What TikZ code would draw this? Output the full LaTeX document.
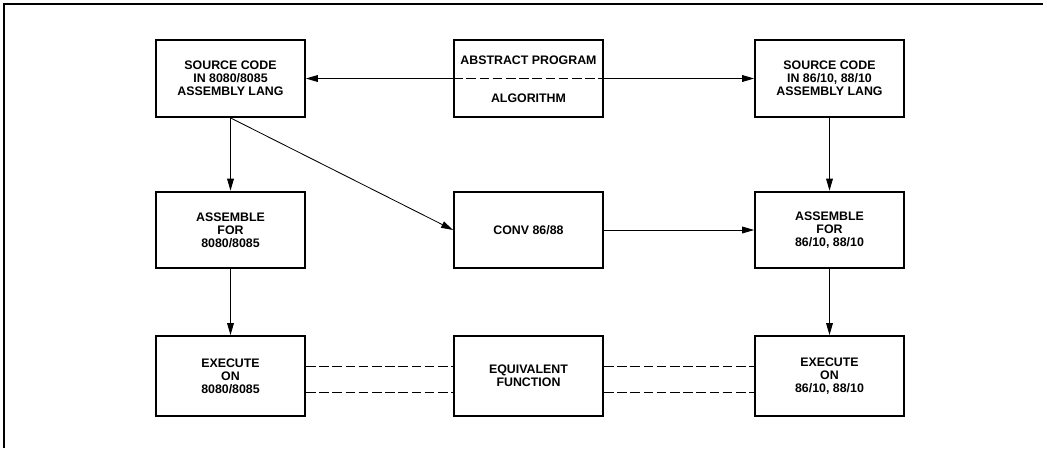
\documentclass[tikz,border=0pt]{standalone}
\usepackage{fontspec}
\setsansfont{Liberation Sans}
\usetikzlibrary{arrows.meta,positioning,calc}
\newcommand{\boxfont}{\sffamily\bfseries\fontsize{8.8}{9.2}\selectfont}
\tikzset{
  blk/.style={draw, line width=1.4pt, minimum width=3.72cm, minimum height=1.92cm,
              align=center, font=\boxfont},
  txt/.style={align=center, font=\boxfont, inner sep=1pt},
  flowarr/.style={-{Triangle[length=3mm, width=1.7mm]}, line width=0.6pt},
  eqline/.style={line width=0.6pt, dash pattern=on 2.4mm off 0.9mm},
}
\begin{document}
\begin{tikzpicture}[x=0.025cm, y=-0.025cm]
    \useasboundingbox (0,0) rectangle (1047,448);
    % page frame
    \draw[line width=1.2pt] (1043,4) -- (4,4) -- (4,448);
    % top row
    \node[blk] (srcA) at (230.5,78.5) {SOURCE CODE\\IN 8080/8085\\ASSEMBLY LANG};
    \node[blk] (abstr) at (528.5,78.5) {};
    \node[txt] (absTop) at (528.5,60) {ABSTRACT PROGRAM};
    \node[txt] (absBot) at (528.5,98) {ALGORITHM};
    \node[blk] (srcB) at (829.5,78.5) {SOURCE CODE\\IN 86/10, 88/10\\ASSEMBLY LANG};
    % middle row
    \node[blk] (asmA) at (230.5,230) {ASSEMBLE\\FOR\\8080/8085};
    \node[blk] (conv) at (528.5,230) {CONV 86/88};
    \node[blk] (asmB) at (829.5,230) {ASSEMBLE\\FOR\\86/10, 88/10};
    % bottom row
    \node[blk, minimum height=2cm] (exeA) at (230.5,376) {EXECUTE\\ON\\8080/8085};
    \node[blk, minimum height=2cm] (equiv) at (528.5,376) {EQUIVALENT\\FUNCTION};
    \node[blk, minimum height=2cm] (exeB) at (829.5,376) {EXECUTE\\ON\\86/10, 88/10};
    % connectors
    \draw[flowarr] (abstr.west) -- (srcA.east);
    \draw[eqline] (abstr.west) -- (abstr.east);
    \draw[flowarr] (abstr.east) -- (srcB.west);
    \draw[flowarr] (srcA.south) -- (asmA.north);
    \draw[flowarr] (srcA.south) -- (conv.west);
    \draw[flowarr] (srcB.south) -- (asmB.north);
    \draw[flowarr] (conv.east) -- (asmB.west);
    \draw[flowarr] (asmA.south) -- (exeA.north);
    \draw[flowarr] (asmB.south) -- (exeB.north);
    \draw[eqline] ($(exeA.east)+(0,-10)$) -- ($(equiv.west)+(0,-10)$);
    \draw[eqline] ($(exeA.east)+(0,16)$) -- ($(equiv.west)+(0,16)$);
    \draw[eqline] ($(equiv.east)+(0,-10)$) -- ($(exeB.west)+(0,-10)$);
    \draw[eqline] ($(equiv.east)+(0,16)$) -- ($(exeB.west)+(0,16)$);
\end{tikzpicture}
\end{document}
